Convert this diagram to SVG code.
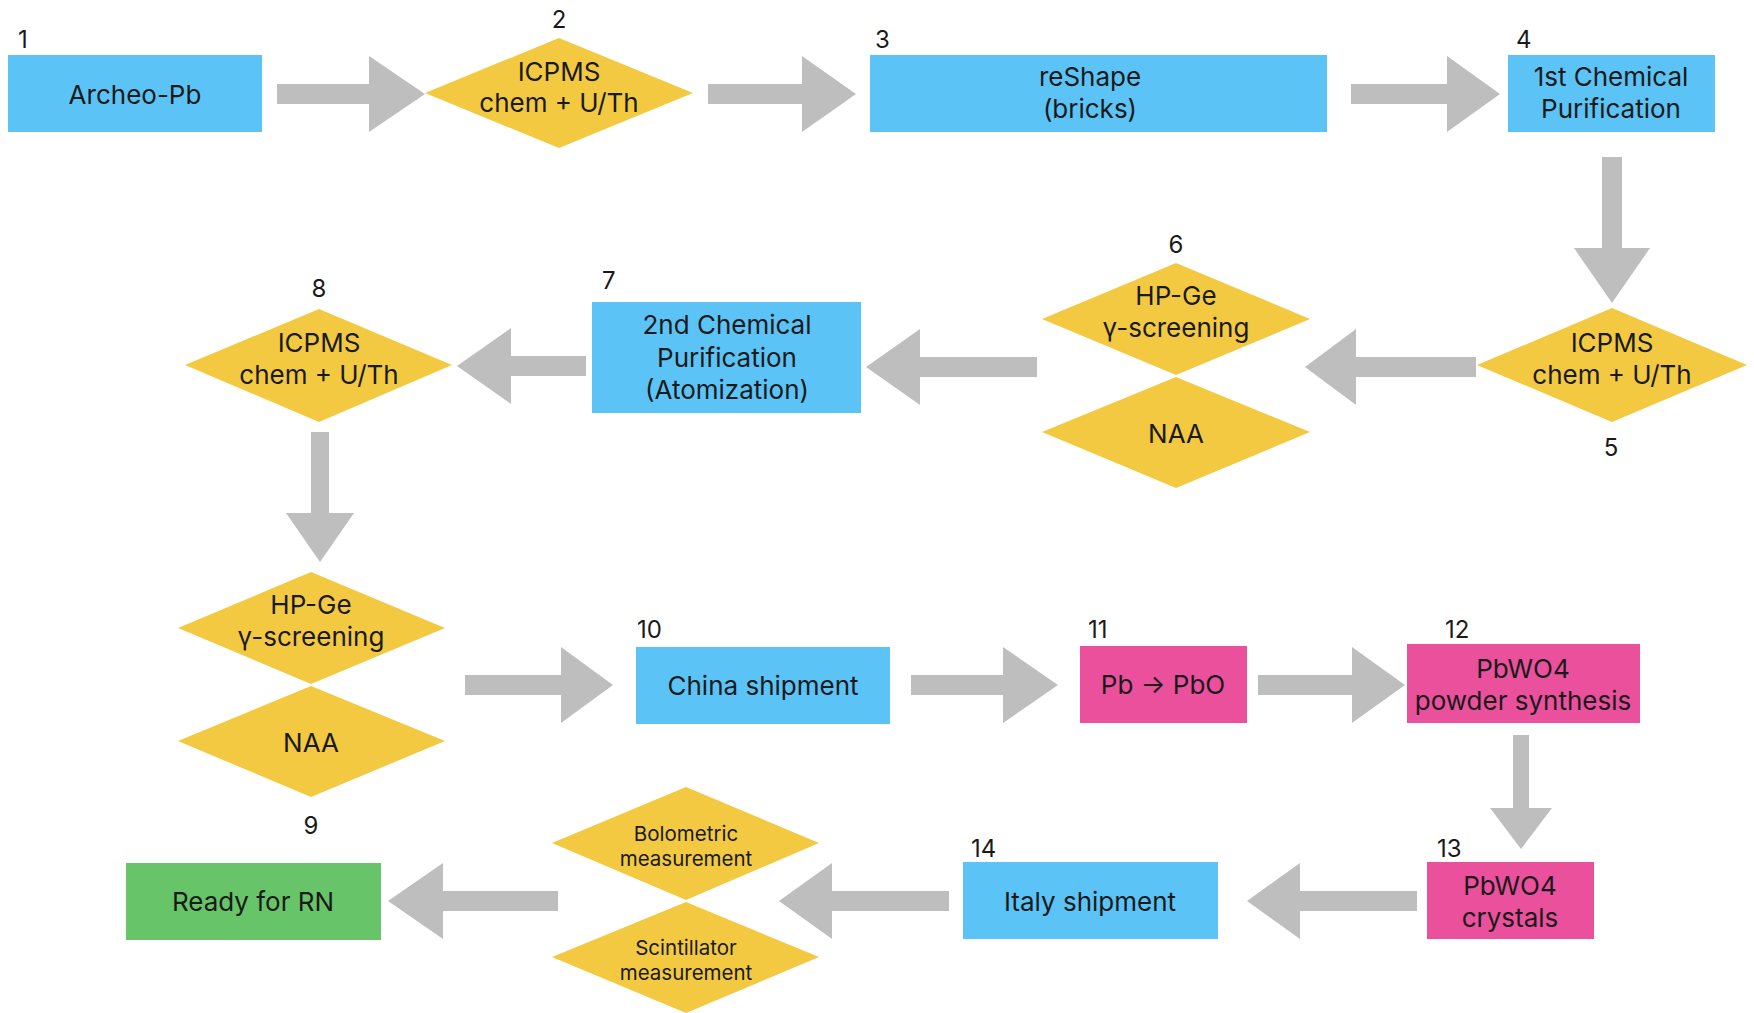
<svg xmlns="http://www.w3.org/2000/svg" width="1754" height="1013" viewBox="0 0 1754 1013">
<style>
.blue{fill:#5BC3F5}
.yel{fill:#F3C942}
.pink{fill:#EA509C}
.green{fill:#67C468}
.arr{fill:#BEBEBE}
text{font-family:Inter,"Open Sans","Liberation Sans",sans-serif;fill:#1a1a1a}
.t{font-size:26px;text-anchor:middle}
.s{font-size:20.5px;text-anchor:middle}
.n{font-size:24px}
.nc{font-size:24px;text-anchor:middle}
</style>
<rect width="1754" height="1013" fill="#ffffff"/>
<g id="connectors">
<polygon class="arr" points="277,84 369,84 369,56 425,94 369,132 369,104 277,104"/>
<polygon class="arr" points="708,84 802,84 802,56 856,94 802,132 802,104 708,104"/>
<polygon class="arr" points="1351,84 1447,84 1447,56 1500,94 1447,132 1447,104 1351,104"/>
<polygon class="arr" points="1602,157 1622,157 1622,248 1650,248 1612,303 1574,248 1602,248"/>
<polygon class="arr" points="1476,357 1356,357 1356,329 1305,367 1356,405 1356,377 1476,377"/>
<polygon class="arr" points="1037,357 920,357 920,329 866,367 920,405 920,377 1037,377"/>
<polygon class="arr" points="586,356 511,356 511,328 457,366 511,404 511,376 586,376"/>
<polygon class="arr" points="311,432 329,432 329,513 354,513 320,562 286,513 311,513"/>
<polygon class="arr" points="465,675 561,675 561,647 613,685 561,723 561,695 465,695"/>
<polygon class="arr" points="911,675 1003,675 1003,647 1058,685 1003,723 1003,695 911,695"/>
<polygon class="arr" points="1258,675 1352,675 1352,647 1405,685 1352,723 1352,695 1258,695"/>
<polygon class="arr" points="1513,735 1529,735 1529,808 1552,808 1521,849 1490,808 1513,808"/>
<polygon class="arr" points="1417,891 1300,891 1300,863 1247,901 1300,939 1300,911 1417,911"/>
<polygon class="arr" points="949,891 832,891 832,863 779,901 832,939 832,911 949,911"/>
<polygon class="arr" points="558,891 443,891 443,863 388,901 443,939 443,911 558,911"/>
</g>
<g id="n1">
<rect class="blue" x="8" y="55" width="254" height="77"/>
<text class="n" x="18" y="48">1</text>
<text class="t" x="135" y="104">Archeo-Pb</text>
</g>
<g id="n2">
<polygon class="yel" points="425,93 559,38 693,93 559,148"/>
<text class="nc" x="559" y="28">2</text>
<text class="t" x="559" y="81">ICPMS</text>
<text class="t" x="559" y="112">chem + U/Th</text>
</g>
<g id="n3">
<rect class="blue" x="870" y="55" width="457" height="77"/>
<text class="n" x="875" y="48">3</text>
<text class="t" x="1090" y="86">reShape</text>
<text class="t" x="1090" y="118">(bricks)</text>
</g>
<g id="n4">
<rect class="blue" x="1508" y="55" width="207" height="77"/>
<text class="n" x="1516" y="48">4</text>
<text class="t" x="1611" y="86">1st Chemical</text>
<text class="t" x="1611" y="118">Purification</text>
</g>
<g id="n5">
<polygon class="yel" points="1477,365 1612,308 1747,365 1612,422"/>
<text class="nc" x="1611" y="456">5</text>
<text class="t" x="1612" y="352">ICPMS</text>
<text class="t" x="1612" y="384">chem + U/Th</text>
</g>
<g id="n6">
<polygon class="yel" points="1042,319 1176,263 1310,319 1176,375"/>
<polygon class="yel" points="1042,432 1176,377 1310,432 1176,488"/>
<text class="nc" x="1176" y="253">6</text>
<text class="t" x="1176" y="305">HP-Ge</text>
<text class="t" x="1176" y="337">γ-screening</text>
<text class="t" x="1176" y="443">NAA</text>
</g>
<g id="n7">
<rect class="blue" x="592" y="302" width="269" height="111"/>
<text class="n" x="602" y="289">7</text>
<text class="t" x="727" y="334">2nd Chemical</text>
<text class="t" x="727" y="367">Purification</text>
<text class="t" x="727" y="399">(Atomization)</text>
</g>
<g id="n8">
<polygon class="yel" points="185,365 319,309 452,365 319,422"/>
<text class="nc" x="319" y="297">8</text>
<text class="t" x="319" y="352">ICPMS</text>
<text class="t" x="319" y="384">chem + U/Th</text>
</g>
<g id="n9">
<polygon class="yel" points="178,628 311,572 445,628 311,684"/>
<polygon class="yel" points="178,741 311,686 445,741 311,797"/>
<text class="nc" x="311" y="834">9</text>
<text class="t" x="311" y="614">HP-Ge</text>
<text class="t" x="311" y="646">γ-screening</text>
<text class="t" x="311" y="752">NAA</text>
</g>
<g id="n10">
<rect class="blue" x="636" y="647" width="254" height="77"/>
<text class="n" x="637" y="638">10</text>
<text class="t" x="763" y="695">China shipment</text>
</g>
<g id="n11">
<rect class="pink" x="1080" y="646" width="167" height="77"/>
<text class="n" x="1088" y="638">11</text>
<text class="t" x="1163" y="694">Pb → PbO</text>
</g>
<g id="n12">
<rect class="pink" x="1407" y="644" width="233" height="79"/>
<text class="n" x="1445" y="638">12</text>
<text class="t" x="1523" y="678">PbWO4</text>
<text class="t" x="1523" y="710">powder synthesis</text>
</g>
<g id="n13">
<rect class="pink" x="1427" y="862" width="167" height="77"/>
<text class="n" x="1437" y="857">13</text>
<text class="t" x="1510" y="895">PbWO4</text>
<text class="t" x="1510" y="927">crystals</text>
</g>
<g id="n14">
<rect class="blue" x="963" y="862" width="255" height="77"/>
<text class="n" x="971" y="857">14</text>
<text class="t" x="1090" y="911">Italy shipment</text>
</g>
<g id="n15">
<polygon class="yel" points="552,843 686,787 819,843 686,900"/>
<polygon class="yel" points="552,957 686,902 819,957 686,1013"/>
<text class="s" x="686" y="841">Bolometric</text>
<text class="s" x="686" y="866">measurement</text>
<text class="s" x="686" y="955">Scintillator</text>
<text class="s" x="686" y="980">measurement</text>
</g>
<g id="n16">
<rect class="green" x="126" y="863" width="255" height="77"/>
<text class="t" x="253" y="911">Ready for RN</text>
</g>
</svg>
